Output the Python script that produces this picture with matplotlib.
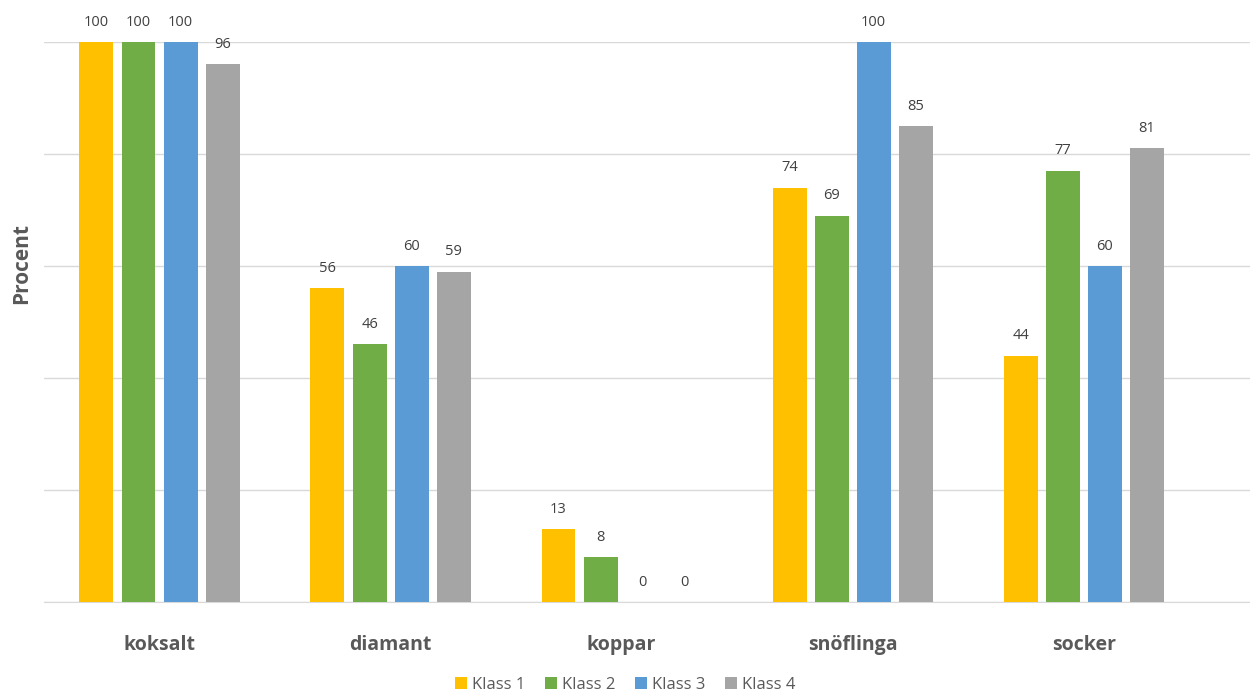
import numpy as np
import matplotlib.pyplot as plt

kategorier = ['koksalt', 'diamant', 'koppar', 'snöflinga', 'socker']
klass1 = [100, 56, 13, 74, 44]
klass2 = [100, 46, 8, 69, 77]
klass3 = [100, 60, 0, 100, 60]
klass4 = [96, 59, 0, 85, 81]
serier = ['Klass 1', 'Klass 2', 'Klass 3', 'Klass 4']
farger = ['#FFC000', '#70AD47', '#5B9BD5', '#A5A5A5']

plt.rcParams['font.family'] = ['Open Sans', 'DejaVu Sans']

fig = plt.figure(figsize=(12.5, 6.95), dpi=100)
ax = fig.add_axes([44 / 1250, 93 / 695, 1 - 44 / 1250, 560 / 695])

x = np.arange(len(kategorier))
bredd = 0.147
steg = 0.182
for i, (namn, varden, farg) in enumerate(zip(serier, [klass1, klass2, klass3, klass4], farger)):
    pos = x + (i - 1.5) * steg
    staplar = ax.bar(pos, varden, bredd, color=farg, label=namn, zorder=3)
    for s, v in zip(staplar, varden):
        ax.text(s.get_x() + s.get_width() / 2, v + 2.2, str(v), ha='center', va='bottom',
                fontsize=10.5, color='#404040', clip_on=False)

ax.set_ylim(0, 100)
ax.set_xlim(-0.5, 4.72)
ax.set_yticks(np.arange(0, 101, 20))
ax.set_yticklabels([])
ax.tick_params(axis='y', length=0)
ax.tick_params(axis='x', length=0, pad=24)
ax.set_xticks(x)
ax.set_xticklabels(kategorier, fontsize=14, fontweight='bold', color='#595959')
ax.grid(axis='y', color='#D9D9D9', linewidth=1, zorder=0)
for side in ['top', 'right', 'left']:
    ax.spines[side].set_visible(False)
ax.spines['bottom'].set_color('#D9D9D9')
ax.set_ylabel('Procent', fontsize=15, fontweight='bold', color='#595959')
ax.yaxis.set_label_coords(-0.01, 0.604)

fig.legend(loc='lower center', bbox_to_anchor=(0.5, -0.018), ncol=4, frameon=False,
           fontsize=12, handlelength=0.7, handleheight=0.7, handletextpad=0.3,
           columnspacing=1.2, labelcolor='#595959')

fig.savefig('out.png', dpi=100)
